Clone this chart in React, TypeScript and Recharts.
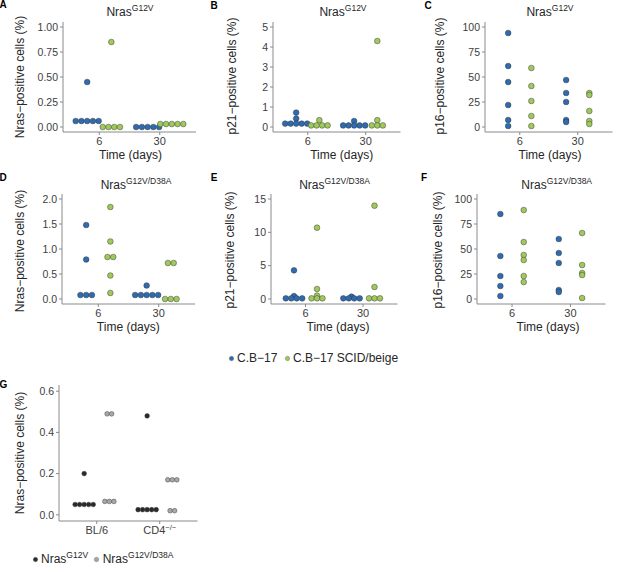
import React from 'react';
import { ScatterChart, Scatter, XAxis, YAxis } from 'recharts';

const FONT = '"Liberation Sans", Arial, Helvetica, sans-serif';
const AXIS = '#8a8a8a';
const TICK = '#3d3d3d';
const TEXT = '#262626';
const BLUE = '#2e6bb0';
const GREEN = '#9fc95b';
const DARK = '#2a2a2a';
const GREY = '#a8a8a8';

// categories
const timeLabels = ['6', '30'];
const mouseLabels = ['BL/6', 'CD4'];
const mouseSups = ['', '−/−'];
const strainLabels = ['C.B−17', 'C.B−17 SCID/beige'];
const alleleSups = ['G12V', 'G12V/D38A'];

// each array: [day 6 values, day 30 values] (%)
// A: Nras-positive, NrasG12V
const aCB17 = [[0.45, 0.06, 0.06, 0.06, 0.06, 0.06], [0, 0, 0, 0, 0]];
const aSCID = [[0.85, 0, 0, 0, 0], [0.03, 0.03, 0.03, 0.03, 0.03]];
// B: p21-positive, NrasG12V
const bCB17 = [[0.72, 0.42, 0.17, 0.17, 0.17, 0.17, 0.17], [0.3, 0.08, 0.08, 0.08, 0.08, 0.08]];
const bSCID = [[0.34, 0.08, 0.08, 0.08, 0.08], [4.3, 0.34, 0.08, 0.08, 0.08]];
// C: p16-positive, NrasG12V
const cCB17 = [[94, 61, 45, 22, 7, 1], [47, 34, 25, 7, 5]];
const cSCID = [[59, 41, 26, 11, 1], [34, 32, 16, 6, 3]];
// D: Nras-positive, NrasG12V/D38A
const dCB17 = [[1.48, 0.79, 0.08, 0.08, 0.08], [0.27, 0.08, 0.08, 0.08, 0.08, 0.08]];
const dSCID = [[1.84, 1.15, 0.84, 0.84, 0.47, 0.12], [0.72, 0.72, 0, 0, 0]];
// E: p21-positive, NrasG12V/D38A
const eCB17 = [[4.3, 0.45, 0.1, 0.1, 0.1, 0.1], [0.35, 0.1, 0.1, 0.1, 0.1]];
const eSCID = [[10.7, 1.5, 0.5, 0.1, 0.1, 0.1], [14, 1.8, 0.1, 0.1, 0.1]];
// F: p16-positive, NrasG12V/D38A
const fCB17 = [[85, 43, 23, 13, 3], [60, 46, 36, 9, 7]];
const fSCID = [[89, 57, 44, 39, 23, 17], [66, 34, 26, 24, 1]];
// G: Nras-positive in BL/6 and CD4-/- mice
const gG12V = [[0.2, 0.05, 0.05, 0.05, 0.05, 0.05], [0.48, 0.025, 0.025, 0.025, 0.025, 0.025]];
const gD38A = [[0.49, 0.49, 0.065, 0.065, 0.065], [0.17, 0.17, 0.17, 0.02, 0.02]];

// dotplot-like layout: equal values are stacked side by side, centred on the dodged category
function stackDots(groups: number[][], dodge: number, step: number) {
  const pts: { x: number; y: number }[] = [];
  groups.forEach((vals, gi) => {
    const counts = new Map<number, number>();
    vals.forEach(v => counts.set(v, (counts.get(v) || 0) + 1));
    counts.forEach((n, v) => {
      for (let i = 0; i < n; i++) {
        pts.push({ x: gi + 1 + dodge + (i - (n - 1) / 2) * step, y: v });
      }
    });
  });
  return pts;
}

const f2 = (v: number) => v.toFixed(2);
const f1 = (v: number) => v.toFixed(1);
const f0 = (v: number) => String(v);

const pct100 = [0, 25, 50, 75, 100];

const panels = [
  {
    letter: 'A', letterPos: [3, 5], left: 63, right: 196, top: 21.7, bottom: 131.7,
    yDomain: [-0.05, 1.05], yTicks: [0, 0.25, 0.5, 0.75, 1], fmt: f2,
    series: [{ g: aCB17, c: BLUE }, { g: aSCID, c: GREEN }],
    sup: alleleSups[0], titlePos: [130, 12], yLabel: 'Nras−positive cells (%)', yLabelPos: [20, 77], xTitlePos: [130.5, 155],
  },
  {
    letter: 'B', letterPos: [214, 6], left: 273, right: 400.5, top: 21.7, bottom: 131.7,
    yDomain: [-0.25, 5.25], yTicks: [0, 1, 2, 3, 4, 5], fmt: f0,
    series: [{ g: bCB17, c: BLUE }, { g: bSCID, c: GREEN }],
    sup: alleleSups[0], titlePos: [343, 12], yLabel: 'p21−positive cells (%)', yLabelPos: [231.7, 76], xTitlePos: [341.7, 155],
  },
  {
    letter: 'C', letterPos: [428, 6], left: 485, right: 612.5, top: 21.7, bottom: 131.7,
    yDomain: [-5, 105], yTicks: pct100, fmt: f0,
    series: [{ g: cCB17, c: BLUE }, { g: cSCID, c: GREEN }],
    sup: alleleSups[0], titlePos: [550, 12], yLabel: 'p16−positive cells (%)', yLabelPos: [440, 76], xTitlePos: [550, 155],
  },
  {
    letter: 'D', letterPos: [3, 178], left: 62, right: 195, top: 194.3, bottom: 304.3,
    yDomain: [-0.1, 2.1], yTicks: [0, 0.5, 1, 1.5, 2], fmt: f1,
    series: [{ g: dCB17, c: BLUE }, { g: dSCID, c: GREEN }],
    sup: alleleSups[1], titlePos: [136, 185], yLabel: 'Nras−positive cells (%)', yLabelPos: [20, 251], xTitlePos: [128.3, 327],
  },
  {
    letter: 'E', letterPos: [214, 178], left: 271, right: 397.5, top: 194.3, bottom: 304.3,
    yDomain: [-0.75, 15.75], yTicks: [0, 5, 10, 15], fmt: f0,
    series: [{ g: eCB17, c: BLUE }, { g: eSCID, c: GREEN }],
    sup: alleleSups[1], titlePos: [334.5, 185], yLabel: 'p21−positive cells (%)', yLabelPos: [230, 250], xTitlePos: [338, 327],
  },
  {
    letter: 'F', letterPos: [424, 178], left: 477.3, right: 605.8, top: 194.3, bottom: 304.3,
    yDomain: [-5, 105], yTicks: pct100, fmt: f0,
    series: [{ g: fCB17, c: BLUE }, { g: fSCID, c: GREEN }],
    sup: alleleSups[1], titlePos: [556.7, 185], yLabel: 'p16−positive cells (%)', yLabelPos: [438.3, 250], xTitlePos: [548, 327],
  },
];

const TickCat = (props: any) => {
  const { x, y, payload, labels, sups } = props;
  const i = Math.round(payload.value) - 1;
  return (
    <text x={x} y={y} dy="0.71em" textAnchor="middle" fontSize={11} fill={TICK} fontFamily={FONT}>
      {labels[i]}
      {sups[i] ? <tspan dy="-0.45em" fontSize={7.5}>{sups[i]}</tspan> : null}
    </text>
  );
};

type Series = { g: number[][]; c: string };

function Plot(props: {
  left: number; right: number; top: number; bottom: number;
  yDomain: number[]; yTicks: number[]; fmt: (v: number) => string;
  series: Series[]; labels: string[]; sups: string[]; step: number; r: number;
}) {
  const YW = 50, MT = 4, MR = 4, XH = 20;
  const w = props.right - props.left;
  const h = props.bottom - props.top;
  const dodges = [-0.2, 0.2];
  return (
    <div style={{ position: 'absolute', left: props.left - YW, top: props.top - MT }}>
      <ScatterChart width={YW + w + MR} height={MT + h + XH} margin={{ top: MT, right: MR, bottom: 0, left: 0 }}>
        <XAxis
          type="number" dataKey="x" domain={[0.4, 2.6]} ticks={[1, 2]} allowDataOverflow interval={0}
          height={XH} tickSize={3} tickMargin={2} stroke={AXIS}
          tick={<TickCat labels={props.labels} sups={props.sups} />}
        />
        <YAxis
          type="number" dataKey="y" domain={props.yDomain} ticks={props.yTicks} allowDataOverflow interval={0}
          width={YW} tickSize={3} tickMargin={2} stroke={AXIS} tickFormatter={props.fmt}
          tick={{ fontSize: 10.5, fill: TICK, fontFamily: FONT }}
        />
        {props.series.map((s, si) => (
          <Scatter
            key={si}
            data={stackDots(s.g, dodges[si], props.step)}
            isAnimationActive={false}
            shape={(p: any) => (
              <circle cx={p.cx} cy={p.cy} r={props.r} fill={s.c} stroke="#333" strokeWidth={0.45} />
            )}
          />
        ))}
      </ScatterChart>
    </div>
  );
}

const abs = (x: number, y: number): React.CSSProperties => ({
  position: 'absolute', left: x, top: y, transform: 'translate(-50%, -50%)', whiteSpace: 'nowrap', lineHeight: 1,
});

const Dot = ({ color }: { color: string }) => (
  <svg width={7} height={7} style={{ display: 'block' }}>
    <circle cx={3.5} cy={3.5} r={2.2} fill={color} stroke="#666" strokeWidth={0.4} />
  </svg>
);

function LegendItem({ x, y, color, children }: { x: number; y: number; color: string; children: React.ReactNode }) {
  return (
    <div style={{ position: 'absolute', left: x - 3.5, top: y - 7, height: 14, display: 'flex', alignItems: 'center', whiteSpace: 'nowrap', fontSize: 12, color: TEXT }}>
      <Dot color={color} />
      <span style={{ marginLeft: 2.5 }}>{children}</span>
    </div>
  );
}

const supStyle: React.CSSProperties = { fontSize: 8.5, verticalAlign: 'top', position: 'relative', top: -2 };

export default function App() {
  return (
    <div style={{ position: 'absolute', left: 0, top: 0, width: 617, height: 572, background: '#fff', fontFamily: FONT, color: TEXT, fontWeight: 400, overflow: 'hidden' }}>
      {panels.map(p => (
        <React.Fragment key={p.letter}>
          <Plot
            left={p.left} right={p.right} top={p.top} bottom={p.bottom}
            yDomain={p.yDomain} yTicks={p.yTicks} fmt={p.fmt}
            series={p.series} labels={timeLabels} sups={['', '']} step={0.095} r={2.85}
          />
          <div style={{ ...abs(p.letterPos[0], p.letterPos[1]), fontSize: 10, fontWeight: 'bold', color: '#000' }}>{p.letter}</div>
          <div style={{ ...abs(p.titlePos[0], p.titlePos[1]), fontSize: 12 }}>
            Nras<span style={supStyle}>{p.sup}</span>
          </div>
          <div style={{ ...abs(p.yLabelPos[0], p.yLabelPos[1]), transform: 'translate(-50%, -50%) rotate(-90deg)', fontSize: 12 }}>
            {p.yLabel}
          </div>
          <div style={{ ...abs(p.xTitlePos[0], p.xTitlePos[1]), fontSize: 12 }}>Time (days)</div>
        </React.Fragment>
      ))}

      <LegendItem x={231} y={358} color={BLUE}>{strainLabels[0]}</LegendItem>
      <LegendItem x={287} y={358} color={GREEN}>{strainLabels[1]}</LegendItem>

      <Plot
        left={58.5} right={197} top={384.5} bottom={520.5}
        yDomain={[-0.03, 0.63]} yTicks={[0, 0.2, 0.4, 0.6]} fmt={f1}
        series={[{ g: gG12V, c: DARK }, { g: gD38A, c: GREY }]}
        labels={mouseLabels} sups={mouseSups} step={0.072} r={2.35}
      />
      <div style={{ ...abs(3.5, 385), fontSize: 10, fontWeight: 'bold', color: '#000' }}>G</div>
      <div style={{ ...abs(20, 453), transform: 'translate(-50%, -50%) rotate(-90deg)', fontSize: 12 }}>
        Nras−positive cells (%)
      </div>

      <LegendItem x={35} y={559} color={DARK}>
        Nras<span style={supStyle}>{alleleSups[0]}</span>
      </LegendItem>
      <LegendItem x={96.7} y={559} color={GREY}>
        Nras<span style={supStyle}>{alleleSups[1]}</span>
      </LegendItem>
    </div>
  );
}
